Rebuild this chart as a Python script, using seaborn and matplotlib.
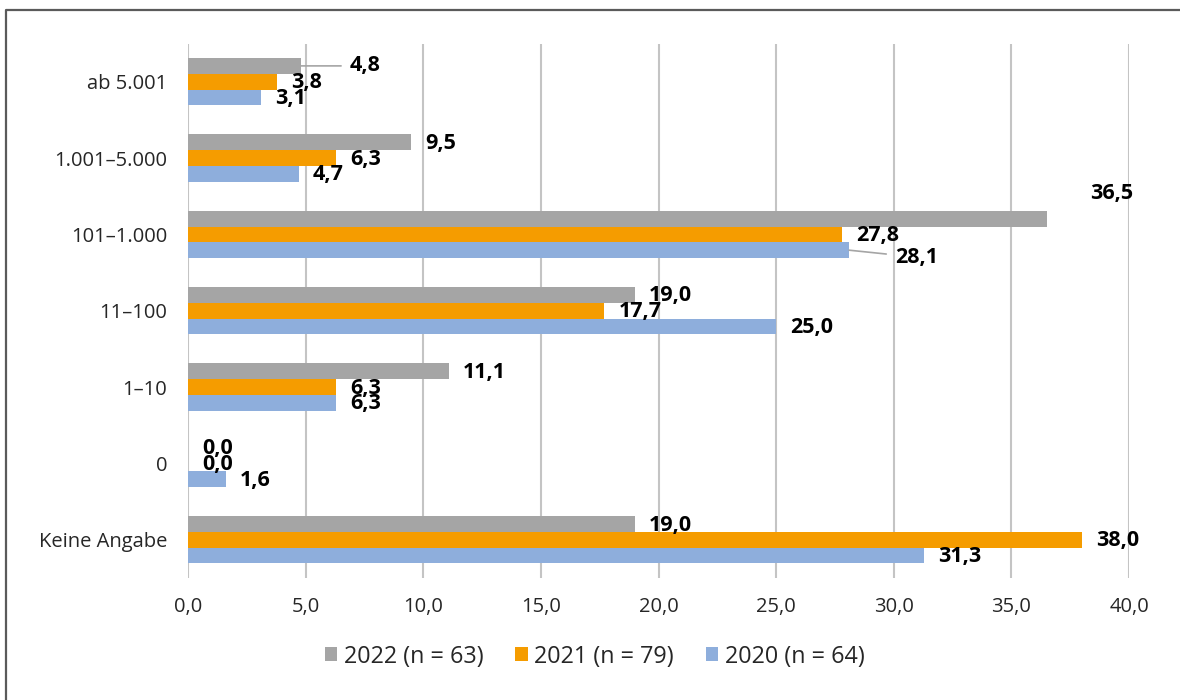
import matplotlib
matplotlib.use("Agg")
import matplotlib.pyplot as plt
import seaborn as sns
import pandas as pd
from matplotlib.lines import Line2D

categories = ["ab 5.001", "1.001–5.000", "101–1.000", "11–100", "1–10", "0", "Keine Angabe"]
series_names = ["2022 (n = 63)", "2021 (n = 79)", "2020 (n = 64)"]
v2022 = [4.8, 9.5, 36.5, 19.0, 11.1, 0.0, 19.0]
v2021 = [3.8, 6.3, 27.8, 17.7, 6.3, 0.0, 38.0]
v2020 = [3.1, 4.7, 28.1, 25.0, 6.3, 1.6, 31.3]
x_ticks = [0, 5, 10, 15, 20, 25, 30, 35, 40]

colors = ["#A5A5A5", "#F59C00", "#8EAEDC"]

sns.set_theme(style="white")
plt.rcParams["font.family"] = ["Open Sans", "DejaVu Sans"]

rows = []
for name, vals in zip(series_names, [v2022, v2021, v2020]):
    for c, v in zip(categories, vals):
        rows.append({"cat": c, "val": v, "series": name})
df = pd.DataFrame(rows)

fig = plt.figure(figsize=(11.8, 7.0), dpi=100)
ax = fig.add_axes([188 / 1180, 1 - 578 / 700, (1129 - 188) / 1180, (578 - 43.5) / 700])

sns.barplot(data=df, y="cat", x="val", hue="series", orient="h",
            order=categories, hue_order=series_names, palette=colors,
            saturation=1, width=0.62, linewidth=0, ax=ax)

ax.set_xlim(0, 40)
ax.set_ylim(len(categories) - 0.5, -0.5)
ax.set_xticks(x_ticks)
ax.set_xticklabels([f"{t:.1f}".replace(".", ",") for t in x_ticks])
ax.set_xlabel("")
ax.set_ylabel("")
for s in ax.spines.values():
    s.set_visible(False)
ax.grid(axis="x", color="#C4C4C4", linewidth=1.5)
ax.grid(axis="y", visible=False)
ax.set_axisbelow(True)
ax.tick_params(axis="x", length=0, pad=13.5, labelsize=14.5, labelcolor="#262626")
ax.tick_params(axis="y", length=0, pad=15, labelsize=14.5, labelcolor="#262626")

# data labels
special = {
    (0, 0): ((49, 0), True),
    (0, 2): ((43, 25), False),
    (2, 2): ((46, -7), True),
}
for si, cont in enumerate(ax.containers):
    for ci, bar in enumerate(cont):
        w = bar.get_width()
        yc = bar.get_y() + bar.get_height() / 2
        txt = f"{w:.1f}".replace(".", ",")
        key = (si, ci)
        if key in special:
            off, line = special[key]
            ap = dict(arrowstyle="-", color="#A5A5A5", lw=1.2, shrinkA=4, shrinkB=0) if line else None
            ax.annotate(txt, xy=(w, yc), xytext=off, textcoords="offset pixels",
                        ha="left", va="center", fontsize=15.5, fontweight="bold",
                        color="black", arrowprops=ap)
        else:
            ax.annotate(txt, xy=(w, yc), xytext=(14, -1), textcoords="offset pixels",
                        ha="left", va="center", fontsize=15.5, fontweight="bold",
                        color="black")

sns.move_legend(ax, "center", bbox_to_anchor=(0.504, 0.062), bbox_transform=fig.transFigure,
                ncol=3, frameon=False, title=None, fontsize=16.8,
                handlelength=0.54, handleheight=0.54, handletextpad=0.28,
                columnspacing=1.36)
for t in ax.get_legend().get_texts():
    t.set_color("#262626")

# outer frame (top and left)
fx = 6 / 1180
fy = 1 - 10 / 700
fig.add_artist(Line2D([fx, fx, 1], [0, fy, fy], transform=fig.transFigure,
                      color="#5A5A5A", linewidth=1.6))

fig.savefig("out.png", dpi=100)
